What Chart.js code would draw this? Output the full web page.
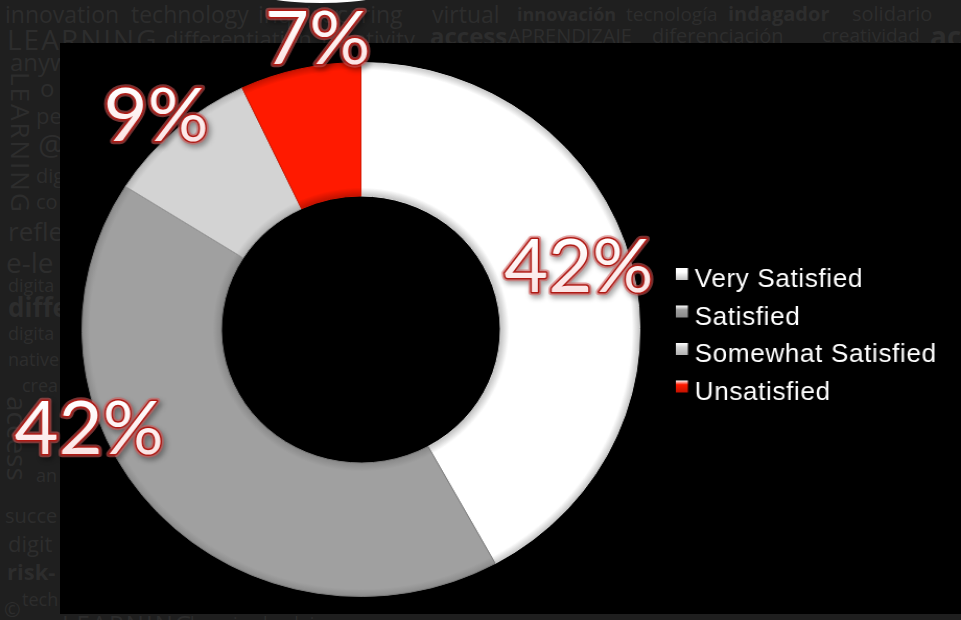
<!DOCTYPE html>
<html>
<head>
<meta charset="utf-8">
<script src="https://cdn.jsdelivr.net/npm/chart.js@4.4.1/dist/chart.umd.min.js"></script>
<style>
html, body { margin: 0; padding: 0; width: 961px; height: 620px; overflow: hidden; background: #1f1f1f; }
#bg { position: absolute; left: 0; top: 0; width: 961px; height: 620px; overflow: hidden;
      font-family: 'Open Sans', sans-serif; color: #2d2d2d; white-space: nowrap; line-height: 1; }
#bg span { position: absolute; }
#bg .b { font-weight: bold; }
#bg .v { transform-origin: 0 0; transform: rotate(90deg); }
#blob { position: absolute; left: 243px; top: -30px; width: 156px; height: 33px; background: #fff; border-radius: 50%; }
#panel { position: absolute; left: 60px; top: 43px; width: 901px; height: 571px; background: #000; }
#wrap { position: absolute; left: 0; top: 0; width: 920px; height: 620px;
        transform: scaleX(1.04457); transform-origin: 0 0; }
</style>
</head>
<body>
<div id="bg">
  <span style="left:5px;top:3px;font-size:23px">innovation</span>
  <span style="left:131px;top:3px;font-size:23px">technology</span>
  <span style="left:258px;top:3px;font-size:23px">inquirer</span>
  <span style="left:337px;top:3px;font-size:23px">caring</span>
  <span style="left:432px;top:3px;font-size:23px">virtual</span>
  <span class="b" style="left:517px;top:5px;font-size:18px">innovación</span>
  <span style="left:626px;top:5px;font-size:19px">tecnología</span>
  <span class="b" style="left:728px;top:4px;font-size:20px">indagador</span>
  <span style="left:852px;top:4px;font-size:20px">solidario</span>
  <span style="left:7px;top:25px;font-size:28px;letter-spacing:2px">LEARNING</span>
  <span style="left:165px;top:27px;font-size:22px">differentiation</span>
  <span style="left:322px;top:27px;font-size:22px">creativity</span>
  <span class="b" style="left:430px;top:24px;font-size:24px">access</span>
  <span style="left:508px;top:26px;font-size:20px">APRENDIZAJE</span>
  <span style="left:652px;top:26px;font-size:20px">diferenciación</span>
  <span style="left:822px;top:26px;font-size:19px">creatividad</span>
  <span class="b" style="left:930px;top:22px;font-size:28px">ac</span>
  <span style="left:10px;top:50px;font-size:24px">anyw</span>
  <span class="v" style="left:34px;top:72px;font-size:26px;letter-spacing:2px">LEARNING</span>
  <span style="left:40px;top:76px;font-size:24px">o</span>
  <span style="left:36px;top:104px;font-size:22px">pe</span>
  <span style="left:38px;top:130px;font-size:30px">@</span>
  <span style="left:36px;top:166px;font-size:20px">dig</span>
  <span style="left:36px;top:192px;font-size:20px">co</span>
  <span style="left:8px;top:218px;font-size:26px">refle</span>
  <span style="left:6px;top:248px;font-size:28px">e-le</span>
  <span style="left:8px;top:276px;font-size:18px">digita</span>
  <span class="b" style="left:8px;top:294px;font-size:26px">diffe</span>
  <span style="left:8px;top:324px;font-size:18px">digita</span>
  <span style="left:8px;top:350px;font-size:18px">native</span>
  <span style="left:22px;top:376px;font-size:18px">crea</span>
  <span class="v" style="left:32px;top:396px;font-size:28px">access</span>
  <span style="left:36px;top:466px;font-size:18px">an</span>
  <span style="left:5px;top:506px;font-size:20px">succe</span>
  <span style="left:8px;top:532px;font-size:22px">digit</span>
  <span class="b" style="left:7px;top:560px;font-size:22px">risk-</span>
  <span style="left:22px;top:590px;font-size:18px">tech</span>
  <span style="left:4px;top:600px;font-size:20px">&copy;</span>
  <span style="left:62px;top:612px;font-size:24px;letter-spacing:2px">LEARNING</span>
  <span style="left:190px;top:614px;font-size:18px">learning by doing</span>
</div>
<div id="blob"></div>
<div id="panel"></div>
<div id="wrap"><canvas id="mycanvas" width="920" height="620"></canvas></div>

<script>
var categories = ["Very Satisfied", "Satisfied", "Somewhat Satisfied", "Unsatisfied"];
var values = [42, 42, 9, 7];
var baseColors = ["#ffffff", "#a0a0a0", "#d3d3d3", "#ff1a00"];
var edgeColors = ["#c4c4c4", "#8a8a8a", "#b2b2b2", "#c41200"];
// where each % label sits, relative to its slice (degrees / fraction of radius)
var labelAngleShift = [-2.7, 22.5, -1, 4.5];
var labelRadius = [0.817, 1.042, 1.089, 1.103];

function ringFill(context) {
	var i = context.dataIndex;
	var chart = context.chart;
	var a = chart.chartArea;
	if (!a) return baseColors[i];
	var cx = (a.left + a.right) / 2, cy = (a.top + a.bottom) / 2;
	var R = Math.min(a.width, a.height) / 2;
	var g = chart.ctx.createRadialGradient(cx, cy, R * 0.5, cx, cy, R);
	g.addColorStop(0, edgeColors[i]);
	g.addColorStop(0.06, baseColors[i]);
	g.addColorStop(0.94, baseColors[i]);
	g.addColorStop(1, edgeColors[i]);
	return g;
}

var pctLabels = {
	id: "pctLabels",
	afterDatasetsDraw: function(chart) {
		var ctx = chart.ctx;
		var meta = chart.getDatasetMeta(0);
		var size = 73;
		ctx.save();
		ctx.font = size + "px Lato";
		ctx.textAlign = "center";
		ctx.textBaseline = "alphabetic";
		ctx.lineJoin = "round";
		meta.data.forEach(function(arc, i) {
			var p = arc.getProps(["x", "y", "startAngle", "endAngle", "outerRadius"], true);
			var mid = (p.startAngle + p.endAngle) / 2 + labelAngleShift[i] * Math.PI / 180;
			var r = p.outerRadius * labelRadius[i];
			var lx = p.x + Math.cos(mid) * r;
			var ly = p.y + Math.sin(mid) * r + size * 0.36;
			var txt = values[i] + "%";
			ctx.shadowColor = "rgba(0,0,0,0.6)";
			ctx.shadowBlur = 5;
			ctx.shadowOffsetX = 2;
			ctx.shadowOffsetY = 3;
			ctx.strokeStyle = "rgba(215,90,90,0.55)";
			ctx.lineWidth = 6.5;
			ctx.strokeText(txt, lx, ly);
			ctx.shadowColor = "transparent";
			ctx.strokeStyle = "#b01a14";
			ctx.lineWidth = 3;
			ctx.strokeText(txt, lx, ly);
			var g = ctx.createLinearGradient(0, ly - size * 0.72, 0, ly);
			g.addColorStop(0, "#ffffff");
			g.addColorStop(1, "#fbe4e4");
			ctx.fillStyle = g;
			ctx.fillText(txt, lx, ly);
		});
		ctx.restore();

		// legend
		ctx.save();
		ctx.font = "25px 'Liberation Sans', Arial, sans-serif";
		ctx.letterSpacing = "0.6px";
		ctx.textAlign = "left";
		ctx.textBaseline = "alphabetic";
		for (var k = 0; k < categories.length; k++) {
			var by = 287 + k * 37.5;
			var bg = ctx.createLinearGradient(0, by - 19, 0, by - 7);
			bg.addColorStop(0, "#ffffff");
			bg.addColorStop(0.35, baseColors[k]);
			bg.addColorStop(1, edgeColors[k]);
			ctx.fillStyle = bg;
			ctx.fillRect(647, by - 19, 11.5, 12);
			ctx.fillStyle = "#ffffff";
			ctx.fillText(categories[k], 665, by);
		}
		ctx.restore();
	}
};

var ctx = document.getElementById("mycanvas");
var chart = new Chart(ctx, {
	type: "doughnut",
	data: {
		labels: categories,
		datasets: [{
			data: values,
			backgroundColor: ringFill,
			borderColor: ["#d6d6d6", "#7c7c7c", "#9c9c9c", "#d01500"],
			borderWidth: 1
		}]
	},
	options: {
		responsive: false,
		animation: false,
		events: [],
		cutout: "50%",
		layout: { padding: { left: 78, right: 307, top: 62, bottom: 23 } },
		plugins: { legend: { display: false }, tooltip: { enabled: false } }
	},
	plugins: [pctLabels]
});
</script>
</body>
</html>
